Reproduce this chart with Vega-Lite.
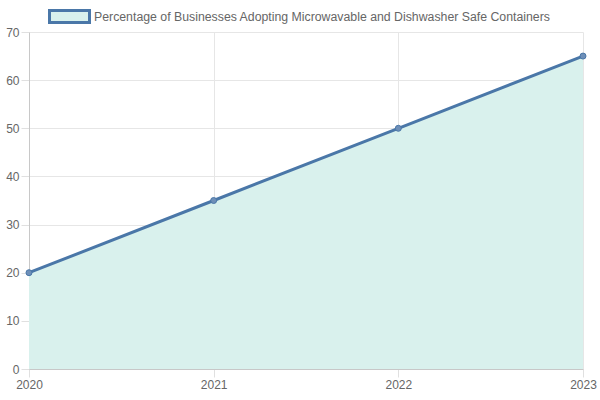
{
  "$schema": "https://vega.github.io/schema/vega-lite/v6.json",
  "width": 554,
  "height": 337,
  "autosize": {"type": "none"},
  "padding": {"left": 29, "top": 32, "right": 17, "bottom": 31},
  "background": "white",
  "config": {
    "font": "Liberation Sans",
    "view": {"stroke": null},
    "axis": {
      "labelFont": "Liberation Sans",
      "labelFontSize": 12,
      "labelColor": "#666666",
      "gridColor": "#e6e6e6",
      "gridWidth": 1,
      "domainColor": "#c8c8c8",
      "tickColor": "#e0e0e0",
      "tickSize": 8,
      "labelPadding": 2,
      "title": null
    }
  },
  "data": {
    "values": [
      {"year": "2020", "pct": 20, "series": "Percentage of Businesses Adopting Microwavable and Dishwasher Safe Containers"},
      {"year": "2021", "pct": 35, "series": "Percentage of Businesses Adopting Microwavable and Dishwasher Safe Containers"},
      {"year": "2022", "pct": 50, "series": "Percentage of Businesses Adopting Microwavable and Dishwasher Safe Containers"},
      {"year": "2023", "pct": 65, "series": "Percentage of Businesses Adopting Microwavable and Dishwasher Safe Containers"}
    ]
  },
  "encoding": {
    "x": {
      "field": "year",
      "type": "ordinal",
      "scale": {"type": "point", "padding": 0},
      "axis": {"labelAngle": 0, "grid": true}
    },
    "y": {
      "field": "pct",
      "type": "quantitative",
      "scale": {"domain": [0, 70], "nice": false},
      "axis": {"values": [0, 10, 20, 30, 40, 50, 60, 70]}
    }
  },
  "layer": [
    {
      "mark": {"type": "area", "opacity": 1},
      "encoding": {
        "fill": {
          "field": "series",
          "type": "nominal",
          "scale": {"range": ["#d9f1ed"]},
          "legend": {
            "title": null,
            "orient": "none",
            "legendX": 19,
            "legendY": -37,
            "symbolType": "M-1,-0.3H1V0.3H-1Z",
            "symbolSize": 1600,
            "symbolStrokeColor": "#4a77a8",
            "symbolStrokeWidth": 3,
            "symbolFillColor": "#d9f1ed",
            "symbolOpacity": 1,
            "labelFont": "Liberation Sans",
            "labelFontSize": 12.3,
            "labelColor": "#666666",
            "labelLimit": 600,
            "labelOffset": 3
          }
        }
      }
    },
    {
      "mark": {"type": "line", "color": "#4a77a8", "strokeWidth": 3}
    },
    {
      "mark": {"type": "point", "filled": true, "size": 36, "color": "#6e8fb8", "stroke": "#4a77a8", "strokeWidth": 1, "opacity": 1}
    }
  ]
}
